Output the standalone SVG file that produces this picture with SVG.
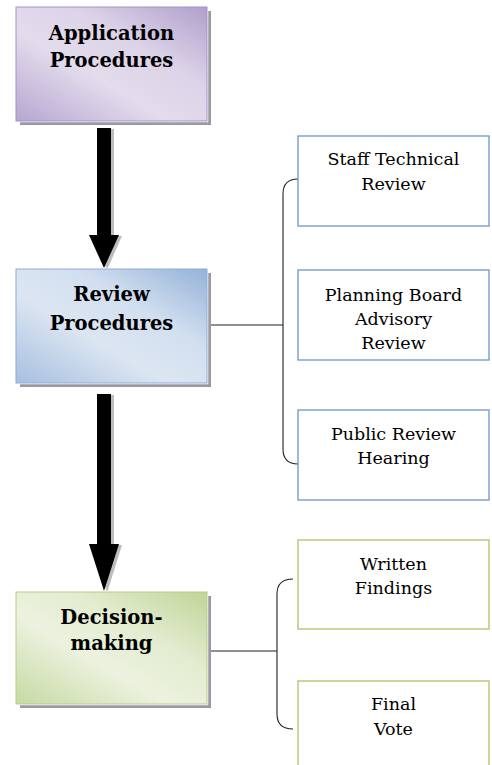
<svg xmlns="http://www.w3.org/2000/svg" width="492" height="765" viewBox="0 0 492 765">
<style>
  .title { font-family: "DejaVu Serif", "Liberation Serif", serif; font-weight: bold; font-size: 19.5px; fill: #000; text-anchor: middle; }
  .sub { font-family: "DejaVu Serif", "Liberation Serif", serif; font-size: 17.5px; fill: #000; text-anchor: middle; }
  .shadow { fill: #9c98a3; }
  .gap { fill: none; stroke: #ffffff; stroke-width: 1.5; }
  .blue { fill: #ffffff; stroke: #6f95c9; stroke-width: 1.3; }
  .green { fill: #ffffff; stroke: #a8c46b; stroke-width: 1.3; }
  .conn { fill: none; stroke: #222; stroke-width: 1.1; }
  .arrow { fill: #000; }
  .ashadow { fill: #bdbdbd; }
</style>
<defs>
  <linearGradient id="gPurple" x1="0" y1="1" x2="1" y2="0">
    <stop offset="0" stop-color="#b6a6d1"/>
    <stop offset="0.4" stop-color="#e3dcec"/>
    <stop offset="0.65" stop-color="#dcd3e8"/>
    <stop offset="1" stop-color="#b09fcc"/>
  </linearGradient>
  <linearGradient id="gBlue" x1="0" y1="1" x2="1" y2="0">
    <stop offset="0" stop-color="#a6bfdf"/>
    <stop offset="0.4" stop-color="#dce6f2"/>
    <stop offset="0.65" stop-color="#d2dff0"/>
    <stop offset="1" stop-color="#94b2d7"/>
  </linearGradient>
  <linearGradient id="gGreen" x1="0" y1="1" x2="1" y2="0">
    <stop offset="0" stop-color="#c6d9a2"/>
    <stop offset="0.4" stop-color="#ecf2df"/>
    <stop offset="0.65" stop-color="#e3ecd0"/>
    <stop offset="1" stop-color="#c0d497"/>
  </linearGradient>
</defs>

<g id="connectors">
  <g id="arrow1">
    <polygon class="ashadow" points="100,129 114,129 114,236 122,236 107,270 92,236 100,236"/>
    <polygon class="arrow" points="97,128 111,128 111,235 119,235 104,268 89,235 97,235"/>
  </g>
  <g id="arrow2">
    <polygon class="ashadow" points="100,395 114,395 114,545 122,545 107,593 92,545 100,545"/>
    <polygon class="arrow" points="97,394 111,394 111,544 119,544 104,591 89,544 97,544"/>
  </g>
  <path class="conn" d="M207,325 H283"/>
  <path class="conn" d="M298,179 Q283,179 283,194 V449 Q283,464 298,464"/>
  <path class="conn" d="M207,651 H277"/>
  <path class="conn" d="M293,579 Q277,579 277,594 V714 Q277,729 293,729"/>
</g>

<g id="application">
  <rect class="shadow" x="20" y="11" width="191" height="114"/>
  <rect class="gap" x="15.5" y="6.5" width="192" height="115"/>
  <rect x="16" y="7" width="191" height="114" fill="url(#gPurple)" stroke="#a592c6" stroke-width="1"/>
  <text class="title" x="111.5" y="40">Application</text>
  <text class="title" x="111.5" y="67">Procedures</text>
</g>

<g id="review">
  <rect class="shadow" x="20" y="273" width="191" height="114" fill="#9499a3"/>
  <rect class="gap" x="15.5" y="268.5" width="192" height="115"/>
  <rect x="16" y="269" width="191" height="114" fill="url(#gBlue)" stroke="#8fabd2" stroke-width="1"/>
  <text class="title" x="111.5" y="301">Review</text>
  <text class="title" x="111.5" y="330">Procedures</text>
</g>

<g id="decision">
  <rect class="shadow" x="20" y="596" width="191" height="112"/>
  <rect class="gap" x="15.5" y="591.5" width="192" height="113"/>
  <rect x="16" y="592" width="191" height="112" fill="url(#gGreen)" stroke="#b7cd8a" stroke-width="1"/>
  <text class="title" x="111.5" y="624">Decision-</text>
  <text class="title" x="111.5" y="650">making</text>
</g>

<g id="staff">
  <rect class="blue" x="298" y="136" width="191" height="90"/>
  <text class="sub" x="393.5" y="165">Staff Technical</text>
  <text class="sub" x="393.5" y="190">Review</text>
</g>

<g id="planning">
  <rect class="blue" x="298" y="270" width="191" height="90"/>
  <text class="sub" x="393.5" y="301">Planning Board</text>
  <text class="sub" x="393.5" y="325">Advisory</text>
  <text class="sub" x="393.5" y="349">Review</text>
</g>

<g id="public">
  <rect class="blue" x="298" y="410" width="191" height="90"/>
  <text class="sub" x="393.5" y="440">Public Review</text>
  <text class="sub" x="393.5" y="464">Hearing</text>
</g>

<g id="written">
  <rect class="green" x="298" y="540" width="191" height="89"/>
  <text class="sub" x="393.5" y="570">Written</text>
  <text class="sub" x="393.5" y="594">Findings</text>
</g>

<g id="final">
  <rect class="green" x="298" y="681" width="191" height="100"/>
  <text class="sub" x="393.5" y="710">Final</text>
  <text class="sub" x="393.5" y="735">Vote</text>
</g>
</svg>
